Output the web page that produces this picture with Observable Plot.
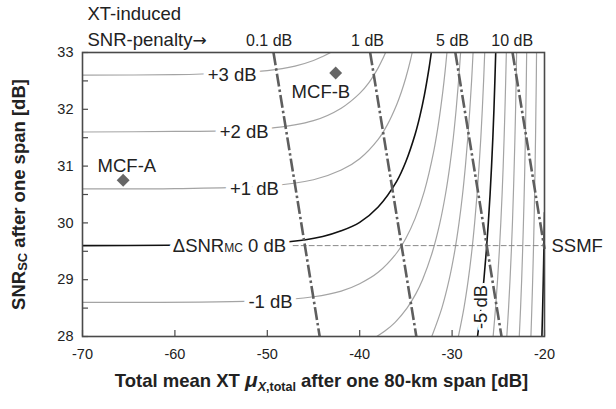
<!DOCTYPE html>
<html><head><meta charset="utf-8">
<script src="https://cdn.jsdelivr.net/npm/d3@7"></script>
<script src="https://cdn.jsdelivr.net/npm/@observablehq/plot@0.6"></script>
<style>html,body{margin:0;padding:0;background:#fff}svg{display:block}</style>
</head><body><div id="chart"></div>
<script>
// ---- data ----
const xTicks = [-70, -60, -50, -40, -30, -20];
const yTicks = [28, 29, 30, 31, 32, 33];
const yTickMarks = [28, 28.5, 29, 29.5, 30, 30.5, 31, 31.5, 32, 32.5, 33];

// ΔSNR_MC contour levels (dB) and their traced points [x, y]
const contourLevels = [3, 2, 1, 0, -1, -2, -3, -4, -5, -6, -7, -8, -9, -10];
const blackLevels = [0, -5, -10];
const contourP3 = [[-70,32.60],[-60,32.61],[-55,32.63],[-50,32.68],[-47,32.76],[-45,32.86],[-44,32.93],[-43.14,33.0]];
const contourP2 = [[-70,31.60],[-60,31.61],[-55,31.62],[-50,31.66],[-45,31.80],[-42,32.02],[-40,32.28],[-39,32.47],[-38,32.73],[-37.5,32.89],[-37.2,33.0]];
const contourP1 = [[-70,30.60],[-60,30.605],[-50,30.65],[-45,30.76],[-42,30.93],[-40,31.13],[-38,31.47],[-37,31.73],[-36,32.08],[-35.5,32.30],[-35,32.56],[-34.5,32.87],[-34.32,33.0]];
const contour0  = [[-70,29.60],[-50,29.64],[-46,29.70],[-44,29.76],[-42,29.86],[-40,30.01],[-38,30.28],[-36,30.73],[-35,31.08],[-34,31.56],[-33.5,31.87],[-33,32.25],[-32.5,32.72],[-32.25,33.0]];
const contourM1 = [[-70,28.60],[-50,28.63],[-45,28.70],[-42,28.80],[-40,28.93],[-38,29.13],[-36,29.47],[-35,29.73],[-34,30.08],[-33,30.56],[-32,31.25],[-31.5,31.72],[-31,32.32],[-30.75,32.68],[-30.56,33.0]];
const contourM2 = [[-38.16,28.0],[-37.24,28.1],[-36.17,28.25],[-34.88,28.5],[-33.93,28.75],[-33.20,29],[-32.11,29.5],[-31.32,30],[-30.72,30.5],[-30.25,31],[-29.87,31.5],[-29.56,32],[-29.30,32.5],[-29.08,33]];
const contourM3 = [[-32.20,28],[-31.11,28.5],[-30.32,29],[-29.72,29.5],[-29.25,30],[-28.87,30.5],[-28.56,31],[-28.30,31.5],[-28.08,32],[-27.89,32.5],[-27.73,33]];
const contourM4 = [[-29.32,28],[-28.72,28.5],[-28.25,29],[-27.87,29.5],[-27.56,30],[-27.30,30.5],[-27.08,31],[-26.89,31.5],[-26.73,32],[-26.59,32.5],[-26.47,33]];
const contourM5 = [[-27.25,28],[-26.87,28.5],[-26.56,29],[-26.30,29.5],[-26.08,30],[-25.89,30.5],[-25.73,31],[-25.59,31.5],[-25.47,32],[-25.37,32.5],[-25.28,33]];
const contourM6 = [[-25.56,28],[-25.30,28.5],[-25.08,29],[-24.89,29.5],[-24.73,30],[-24.59,30.5],[-24.47,31],[-24.37,31.5],[-24.28,32],[-24.20,32.5],[-24.13,33]];
const contourM7 = [[-24.08,28],[-23.89,28.5],[-23.73,29],[-23.59,29.5],[-23.47,30],[-23.37,30.5],[-23.28,31],[-23.20,31.5],[-23.13,32],[-23.07,32.5],[-23.02,33]];
const contourM8 = [[-22.73,28],[-22.59,28.5],[-22.47,29],[-22.37,29.5],[-22.28,30],[-22.20,30.5],[-22.13,31],[-22.07,31.5],[-22.02,32],[-21.97,32.5],[-21.93,33]];
const contourM9 = [[-21.47,28],[-21.37,28.5],[-21.28,29],[-21.20,29.5],[-21.13,30],[-21.07,30.5],[-21.02,31],[-20.97,31.5],[-20.93,32],[-20.89,32.5],[-20.86,33]];
const contourM10 = [[-20.28,28],[-20.20,28.5],[-20.13,29],[-20.07,29.5],[-20.015,30],[-20.0,30.18]];
const contourPoints = [contourP3, contourP2, contourP1, contour0, contourM1, contourM2, contourM3, contourM4, contourM5, contourM6, contourM7, contourM8, contourM9, contourM10];

const contourLabelText = ["+3 dB", "+2 dB", "+1 dB", "ΔSNRMC 0 dB", "-1 dB"];
const contourLabelX = [-53.8, -52.5, -51.4, -54.1, -49.65];
const contourLabelY = [32.6, 31.6, 30.6, 29.6, 28.6];
const rotatedLabelText = ["-5 dB"];
const rotatedLabelX = [-26.85];
const rotatedLabelY = [28.52];

// XT-induced SNR-penalty lines (straight, dash-dot)
const penaltyText = ["0.1 dB", "1 dB", "5 dB", "10 dB"];
const penaltyTopX = [-49.33, -38.87, -29.65, -23.46];
const penaltyTopY = [33, 33, 33, 33];
const penaltyBottomX = [-44.33, -33.87, -24.65, -20.0];
const penaltyBottomY = [28, 28, 28, 29.54];
const penaltyLabelX = [-49.8, -39.15, -29.95, -23.5];

// SSMF reference
const ssmfX = [-47.2, -20];
const ssmfY = [29.6, 29.6];

// MCF points
const mcfNames = ["MCF-A", "MCF-B"];
const mcfX = [-65.6, -42.6];
const mcfY = [30.75, 32.64];
const mcfLabelX = [-65.2, -44.2];
const mcfLabelY = [31.0, 32.3];

// ---- build tables ----
const contourRows = contourLevels.flatMap((lv, i) =>
  contourPoints[i].map(([x, y]) => ({lv, x, y, black: blackLevels.includes(lv)})));
const contourLabels = contourLabelText.map((t, i) => ({t, x: contourLabelX[i], y: contourLabelY[i]}));
const rotatedLabels = rotatedLabelText.map((t, i) => ({t, x: rotatedLabelX[i], y: rotatedLabelY[i]}));
const penalties = penaltyText.map((t, i) => ({t, x1: penaltyTopX[i], y1: penaltyTopY[i], x2: penaltyBottomX[i], y2: penaltyBottomY[i], lx: penaltyLabelX[i]}));
const ssmf = ssmfX.map((x, i) => ({x, y: ssmfY[i]}));
const mcf = mcfNames.map((n, i) => ({n, x: mcfX[i], y: mcfY[i], lx: mcfLabelX[i], ly: mcfLabelY[i]}));

const FONT = "'Liberation Sans', Arial, Helvetica, sans-serif";
const TXT = "#222";

const chart = Plot.plot({
  width: 616,
  height: 409,
  marginLeft: 82,
  marginRight: 72,
  marginTop: 52,
  marginBottom: 73,
  x: {domain: [-70, -20], label: null},
  y: {domain: [28, 33], label: null},
  style: {fontFamily: FONT, fontSize: "14.5px", color: TXT, background: "#fff", overflow: "visible"},
  marks: [
    // gray contours
    Plot.line(contourRows.filter(d => !d.black), {x: "x", y: "y", z: "lv", stroke: "#a4a4a4", strokeWidth: 1.2, curve: "catmull-rom", clip: true}),
    // SSMF dashed reference
    Plot.line(ssmf, {x: "x", y: "y", stroke: "#8a8a8a", strokeWidth: 1, strokeDasharray: "5,3"}),
    // black contours
    Plot.line(contourRows.filter(d => d.black), {x: "x", y: "y", z: "lv", stroke: "#111", strokeWidth: 1.6, curve: "catmull-rom", clip: true}),
    // penalty dash-dot lines
    Plot.link(penalties, {x1: "x1", y1: "y1", x2: "x2", y2: "y2", stroke: "#5e5e5e", strokeWidth: 2.6, strokeDasharray: "13,3,2.5,3"}),
    // contour labels: white halo underneath (line gaps), then the text
    Plot.text(contourLabels, {x: "x", y: "y", text: "t", fontSize: 18.5, fill: "#fff", stroke: "#fff", strokeWidth: 10, strokeLinejoin: "round", ariaHidden: true}),
    Plot.text(contourLabels, {x: "x", y: "y", text: "t", fontSize: 18.5, fill: TXT}),
    Plot.text(rotatedLabels, {x: "x", y: "y", text: "t", rotate: -90, fontSize: 18.5, fill: TXT, stroke: "#fff", strokeWidth: 6, strokeLinejoin: "round"}),
    // MCF markers and labels
    Plot.dot(mcf, {x: "x", y: "y", symbol: "diamond2", r: 5.8, fill: "#666", stroke: null}),
    Plot.text(mcf, {x: "lx", y: "ly", text: "n", fontSize: 18.5, fill: TXT}),
    // SSMF label
    Plot.text(["SSMF"], {x: -20, y: 29.6, text: d => d, textAnchor: "start", dx: 7, fontSize: 18.5, fill: TXT}),
    // penalty labels above the frame
    Plot.text(penalties, {x: "lx", text: "t", frameAnchor: "top", lineAnchor: "middle", dy: -12, fontSize: 16, fill: TXT}),
    Plot.text(["XT-induced"], {text: d => d, frameAnchor: "top-left", textAnchor: "start", lineAnchor: "middle", dx: 5, dy: -38, fontSize: 18.5, fill: TXT}),
    Plot.text(["SNR-penalty→"], {text: d => d, frameAnchor: "top-left", textAnchor: "start", lineAnchor: "middle", dx: 5, dy: -12, fontSize: 18.5, fill: TXT}),
    // frame
    Plot.frame({stroke: "#4a4a4a", strokeWidth: 1.6}),
    // axes: labels
    Plot.axisX({ticks: xTicks, tickSize: 0, tickPadding: 12, tickFormat: d => `${d}`, fontSize: 14.5, label: null}),
    Plot.axisY({ticks: yTicks, tickSize: 0, tickPadding: 9, tickFormat: d => `${d}`, fontSize: 14.5, label: null}),
    // inward tick marks
    Plot.axisX({ticks: xTicks, tickSize: 6, dy: -6, tickFormat: () => "", label: null, stroke: "#4a4a4a", strokeWidth: 1.2}),
    Plot.axisY({ticks: yTickMarks, tickSize: 6, dx: 6, tickFormat: () => "", label: null, stroke: "#4a4a4a", strokeWidth: 1.2}),
    // axis titles
    Plot.text(["Total mean XT μX,total after one 80-km span [dB]"], {text: d => d, frameAnchor: "bottom", textAnchor: "middle", lineAnchor: "middle", dx: 8, dy: 45, fontSize: 18.5, fontWeight: "bold", fill: TXT}),
    Plot.text(["SNRSC after one span [dB]"], {text: d => d, frameAnchor: "left", textAnchor: "middle", lineAnchor: "middle", rotate: -90, dx: -63, fontSize: 18.5, fontWeight: "bold", fill: TXT})
  ]
});

document.getElementById("chart").appendChild(chart);

// ---- rich-text formatting (subscripts / small caps) ----
function rich(match, parts) {
  d3.select(chart).selectAll("text").filter(function () { return this.textContent === match; }).each(function () {
    const t = d3.select(this);
    t.text(null);
    for (const p of parts) {
      const s = t.append("tspan").text(p.text);
      if (p.dy != null) s.attr("dy", p.dy);
      if (p.size) s.style("font-size", p.size);
      if (p.italic) s.style("font-style", "italic");
      if (p.family) s.style("font-family", p.family);
    }
  });
}
rich("ΔSNRMC 0 dB", [{text: "ΔSNR"}, {text: "MC", size: "12px"}, {text: " 0 dB"}]);
rich("SNR-penalty→", [{text: "SNR-penalty"}, {text: "→", family: "'DejaVu Sans', sans-serif", size: "17px"}]);
rich("SNRSC after one span [dB]", [{text: "SNR"}, {text: "SC", size: "13px", dy: 1.5}, {text: " after one span [dB]", dy: -1.5}]);
rich("Total mean XT μX,total after one 80-km span [dB]", [
  {text: "Total mean XT "},
  {text: "μ", size: "21px", italic: true},
  {text: "X", size: "12.5px", italic: true, dy: 4},
  {text: ",total", size: "12.5px"},
  {text: " after one 80-km span [dB]", dy: -4}
]);
</script></body></html>
